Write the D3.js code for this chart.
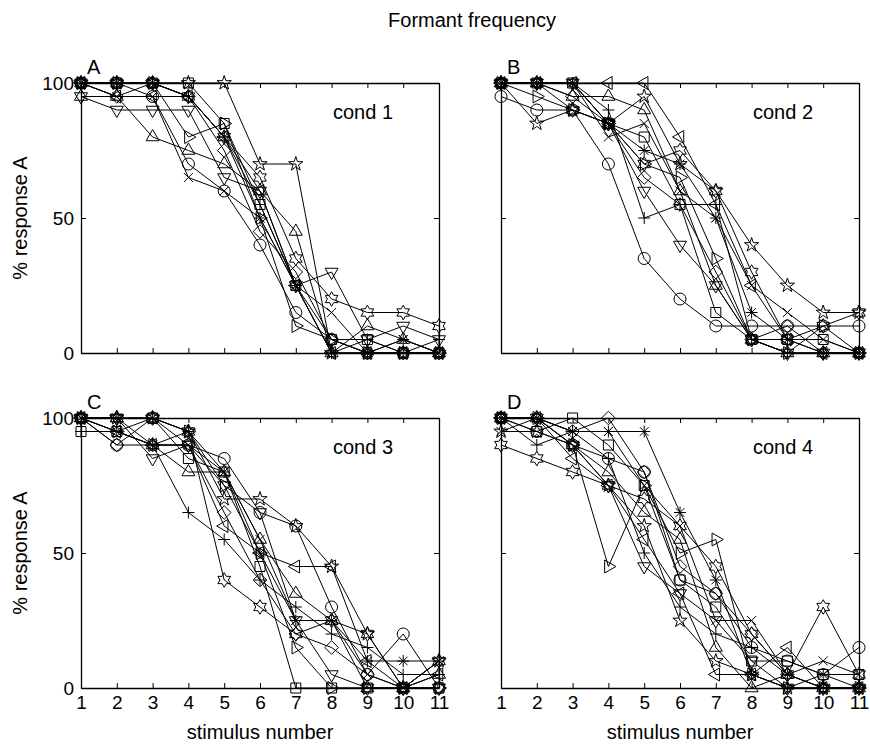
<!doctype html>
<html>
<head>
<meta charset="utf-8">
<title>Formant frequency</title>
<script src="https://d3js.org/d3.v7.min.js"></script>
<style>
  body { margin: 0; background: #fff; }
  text { font-family: "Liberation Sans", Arial, sans-serif; fill: #000; }
</style>
</head>
<body>
<svg width="870" height="744"></svg>
<script>
// stimulus numbers on the x axis
var stimulus = [1, 2, 3, 4, 5, 6, 7, 8, 9, 10, 11];
var yTicks = [0, 50, 100];
// one marker per listener, same order in every condition
var markers = ["o", "x", "+", "*", "s", "d", "v", "^", "<", ">", "p", "h"];
var panelLetters = ["A", "B", "C", "D"];
var condNames = ["cond 1", "cond 2", "cond 3", "cond 4"];

// % response A, one row per listener (marker order above)
var cond1 = [
  [100, 100, 95, 70, 60, 40, 15, 5, 0, 0, 0],
  [100, 95, 95, 65, 60, 50, 25, 15, 0, 5, 0],
  [100, 100, 100, 95, 80, 55, 25, 0, 5, 0, 5],
  [100, 100, 100, 95, 80, 50, 25, 0, 0, 5, 0],
  [100, 100, 100, 100, 85, 55, 25, 5, 5, 0, 0],
  [100, 95, 100, 95, 75, 45, 30, 5, 0, 0, 0],
  [95, 90, 90, 90, 65, 60, 25, 30, 5, 10, 5],
  [95, 95, 80, 75, 70, 60, 45, 0, 10, 5, 0],
  [100, 95, 95, 95, 80, 60, 25, 0, 0, 0, 0],
  [100, 100, 100, 80, 85, 50, 10, 5, 0, 0, 0],
  [100, 100, 100, 100, 100, 70, 70, 0, 0, 0, 0],
  [100, 100, 100, 95, 80, 65, 35, 20, 15, 15, 10]
];
var cond2 = [
  [95, 90, 90, 70, 35, 20, 10, 10, 10, 10, 10],
  [100, 100, 100, 80, 85, 60, 50, 25, 15, 5, 0],
  [100, 100, 100, 90, 50, 55, 55, 5, 0, 0, 0],
  [100, 100, 100, 85, 75, 70, 50, 15, 5, 0, 0],
  [100, 100, 100, 85, 80, 55, 15, 5, 5, 5, 0],
  [100, 100, 95, 85, 65, 55, 30, 5, 10, 0, 0],
  [100, 100, 100, 85, 60, 40, 25, 5, 0, 0, 0],
  [100, 100, 95, 95, 90, 60, 25, 5, 0, 0, 0],
  [100, 100, 100, 100, 100, 80, 55, 25, 5, 0, 0],
  [100, 95, 90, 85, 70, 65, 35, 5, 0, 10, 0],
  [100, 85, 90, 85, 95, 70, 60, 40, 25, 15, 15],
  [100, 100, 90, 85, 70, 75, 60, 30, 5, 10, 15]
];
var cond3 = [
  [100, 90, 100, 90, 85, 65, 60, 30, 5, 20, 0],
  [100, 95, 90, 90, 80, 55, 25, 25, 5, 0, 10],
  [95, 95, 90, 65, 55, 40, 30, 20, 15, 5, 5],
  [100, 100, 100, 95, 80, 50, 25, 25, 10, 10, 10],
  [95, 95, 100, 85, 80, 45, 0, 0, 0, 0, 0],
  [100, 90, 90, 90, 65, 40, 20, 15, 5, 0, 0],
  [100, 100, 85, 90, 75, 65, 25, 5, 0, 0, 0],
  [100, 100, 90, 80, 80, 55, 35, 25, 0, 0, 5],
  [100, 95, 90, 90, 60, 50, 45, 45, 10, 0, 5],
  [100, 95, 90, 95, 75, 50, 15, 0, 0, 0, 0],
  [100, 100, 100, 95, 70, 70, 60, 45, 20, 0, 10],
  [100, 100, 100, 95, 40, 30, 20, 25, 20, 0, 10]
];
var cond4 = [
  [100, 95, 90, 85, 80, 40, 35, 15, 10, 5, 15],
  [95, 100, 95, 95, 75, 60, 25, 25, 5, 10, 5],
  [100, 90, 95, 85, 50, 30, 20, 15, 5, 0, 0],
  [100, 100, 95, 95, 95, 65, 40, 5, 0, 5, 0],
  [100, 95, 100, 90, 75, 40, 30, 10, 10, 5, 5],
  [100, 100, 95, 100, 80, 45, 35, 20, 5, 0, 0],
  [100, 100, 90, 75, 45, 35, 25, 10, 0, 0, 0],
  [100, 100, 90, 80, 65, 55, 15, 0, 5, 0, 0],
  [100, 100, 85, 75, 55, 35, 5, 5, 15, 0, 0],
  [100, 100, 90, 45, 75, 50, 55, 5, 0, 0, 0],
  [95, 95, 90, 75, 60, 25, 10, 5, 0, 0, 0],
  [90, 85, 80, 75, 70, 60, 45, 20, 5, 30, 5]
];
var conditions = [cond1, cond2, cond3, cond4];

var svg = d3.select("svg");
var pw = 358, ph = 270;
var origins = [[81, 83], [501, 83], [81, 418], [501, 418]];

var x = d3.scaleLinear().domain([1, 11]).range([0, pw]);
var y = d3.scaleLinear().domain([0, 100]).range([ph, 0]);

// outline marker shapes, roughly like matlab's
function markerPath(m) {
  var p = d3.path(), r, i, a, rr;
  if (m == "o") { p.arc(0, 0, 6, 0, 2 * Math.PI); }
  else if (m == "x") { r = 4.5; p.moveTo(-r, -r); p.lineTo(r, r); p.moveTo(-r, r); p.lineTo(r, -r); }
  else if (m == "+") { r = 6; p.moveTo(-r, 0); p.lineTo(r, 0); p.moveTo(0, -r); p.lineTo(0, r); }
  else if (m == "*") {
    r = 6; p.moveTo(-r, 0); p.lineTo(r, 0); p.moveTo(0, -r); p.lineTo(0, r);
    r = 4.3; p.moveTo(-r, -r); p.lineTo(r, r); p.moveTo(-r, r); p.lineTo(r, -r);
  }
  else if (m == "s") { r = 5; p.rect(-r, -r, 2 * r, 2 * r); }
  else if (m == "d") { r = 6.8; p.moveTo(0, -r); p.lineTo(r, 0); p.lineTo(0, r); p.lineTo(-r, 0); p.closePath(); }
  else if ("v^<>".indexOf(m) >= 0) {
    r = 7.5;
    var rot = { "^": -90, "v": 90, "<": 180, ">": 0 }[m];
    for (i = 0; i < 3; i++) {
      a = (rot + i * 120) * Math.PI / 180;
      if (i == 0) p.moveTo(r * Math.cos(a), r * Math.sin(a)); else p.lineTo(r * Math.cos(a), r * Math.sin(a));
    }
    p.closePath();
  }
  else if (m == "p") {
    for (i = 0; i < 10; i++) {
      rr = i % 2 ? 2.9 : 7.5;
      a = (-90 + i * 36) * Math.PI / 180;
      if (i == 0) p.moveTo(rr * Math.cos(a), rr * Math.sin(a)); else p.lineTo(rr * Math.cos(a), rr * Math.sin(a));
    }
    p.closePath();
  }
  else if (m == "h") {
    for (i = 0; i < 12; i++) {
      rr = i % 2 ? 4.2 : 7.3;
      a = (-90 + i * 30) * Math.PI / 180;
      if (i == 0) p.moveTo(rr * Math.cos(a), rr * Math.sin(a)); else p.lineTo(rr * Math.cos(a), rr * Math.sin(a));
    }
    p.closePath();
  }
  return p.toString();
}

svg.append("text")
  .attr("x", 472).attr("y", 27)
  .attr("text-anchor", "middle")
  .style("font-size", "20px")
  .text("Formant frequency");

var line = d3.line()
  .x(function (d, i) { return x(stimulus[i]); })
  .y(function (d) { return y(d); });

conditions.forEach(function (data, k) {
  var g = svg.append("g")
    .attr("transform", "translate(" + origins[k][0] + "," + origins[k][1] + ")");
  var bottomRow = k >= 2, leftCol = k % 2 == 0;

  var xb = d3.axisBottom(x).tickValues(stimulus).tickSizeInner(-5).tickSizeOuter(0).tickPadding(8);
  if (!bottomRow) xb.tickFormat("");
  var xt = d3.axisTop(x).tickValues(stimulus).tickSizeInner(-5).tickSizeOuter(0).tickFormat("");
  var yl = d3.axisLeft(y).tickValues(yTicks).tickSizeInner(-5).tickSizeOuter(0).tickPadding(7);
  if (!leftCol) yl.tickFormat("");
  var yr = d3.axisRight(y).tickValues(yTicks).tickSizeInner(-5).tickSizeOuter(0).tickFormat("");

  data.forEach(function (row, s) {
    var sg = g.append("g");
    sg.append("path")
      .attr("d", line(row))
      .attr("fill", "none")
      .attr("stroke", "#000")
      .attr("stroke-width", 1);
    sg.selectAll("path.mk")
      .data(row)
      .enter()
        .append("path")
        .attr("class", "mk")
        .attr("d", markerPath(markers[s]))
        .attr("transform", function (d, i) { return "translate(" + x(stimulus[i]) + "," + y(d) + ")"; })
        .attr("fill", "none")
        .attr("stroke", "#000")
        .attr("stroke-width", 1);
  });

  g.append("g").attr("transform", "translate(0," + ph + ")").call(xb);
  g.append("g").call(xt);
  g.append("g").call(yl);
  g.append("g").attr("transform", "translate(" + pw + ",0)").call(yr);
  g.selectAll(".domain").attr("stroke", "#000").attr("stroke-width", 1.3);
  g.selectAll(".tick line").attr("stroke", "#000").attr("stroke-width", 1);
  g.selectAll(".tick text").style("font-size", "19px")
    .style("font-family", "'Liberation Sans', Arial, sans-serif");

  g.append("text")
    .attr("x", 6).attr("y", -9)
    .style("font-size", "20px")
    .text(panelLetters[k]);
  g.append("text")
    .attr("x", 252).attr("y", 36)
    .style("font-size", "20px")
    .text(condNames[k]);

  if (bottomRow) {
    g.append("text")
      .attr("x", pw / 2).attr("y", ph + 51)
      .attr("text-anchor", "middle")
      .style("font-size", "20px")
      .text("stimulus number");
  }
  if (leftCol) {
    g.append("text")
      .attr("transform", "translate(" + (-54) + "," + (ph / 2) + ") rotate(-90)")
      .attr("text-anchor", "middle")
      .style("font-size", "20px")
      .text("% response A");
  }
});
</script>
</body>
</html>
